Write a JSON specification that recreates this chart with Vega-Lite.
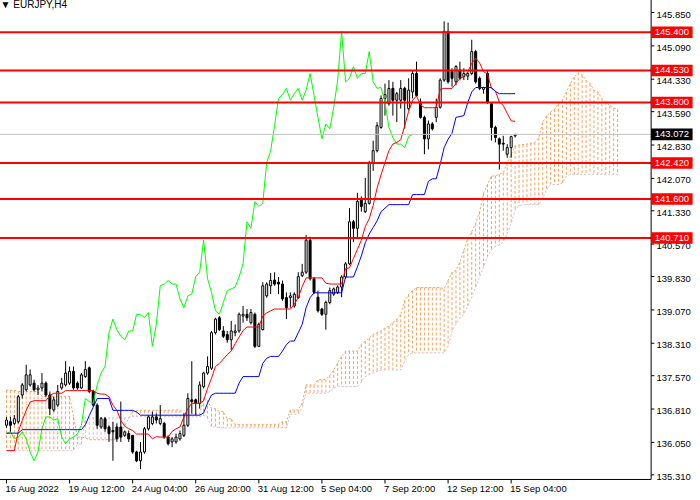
{
  "$schema": "https://vega.github.io/schema/vega-lite/v6.json",
  "width": 700,
  "height": 500,
  "padding": 0,
  "autosize": {"type": "none"},
  "background": "white",
  "title": {
    "text": "▼ EURJPY,H4",
    "anchor": "start",
    "offset": -13,
    "dx": 3,
    "fontSize": 10,
    "fontWeight": "normal",
    "font": "Liberation Sans",
    "color": "black"
  },
  "config": {
    "view": {"stroke": null},
    "axis": {"grid": false}
  },
  "datasets": {
    "candles": [
      {"i":0,"o":136.44,"h":136.63,"l":136.38,"c":136.56},
      {"i":1,"o":136.52,"h":136.63,"l":136.29,"c":136.44},
      {"i":2,"o":136.48,"h":136.67,"l":136.44,"c":136.59},
      {"i":3,"o":136.52,"h":137.13,"l":136.48,"c":137.09},
      {"i":4,"o":137.13,"h":137.40,"l":137.05,"c":137.36},
      {"i":5,"o":137.25,"h":137.82,"l":137.21,"c":137.59},
      {"i":6,"o":137.36,"h":137.71,"l":137.32,"c":137.59},
      {"i":7,"o":137.40,"h":137.48,"l":137.21,"c":137.25},
      {"i":8,"o":137.25,"h":137.36,"l":137.13,"c":137.29},
      {"i":9,"o":137.29,"h":137.63,"l":137.21,"c":137.40},
      {"i":10,"o":137.40,"h":137.44,"l":137.09,"c":137.13},
      {"i":11,"o":137.13,"h":137.21,"l":136.67,"c":136.82},
      {"i":12,"o":136.79,"h":137.09,"l":136.75,"c":137.02},
      {"i":13,"o":136.90,"h":137.36,"l":136.86,"c":137.21},
      {"i":14,"o":137.29,"h":137.52,"l":137.25,"c":137.40},
      {"i":15,"o":137.36,"h":137.90,"l":137.32,"c":137.63},
      {"i":16,"o":137.40,"h":137.78,"l":137.36,"c":137.67},
      {"i":17,"o":137.67,"h":137.78,"l":137.25,"c":137.29},
      {"i":18,"o":137.40,"h":137.44,"l":137.25,"c":137.29},
      {"i":19,"o":137.29,"h":137.63,"l":137.27,"c":137.59},
      {"i":20,"o":137.55,"h":137.90,"l":137.52,"c":137.71},
      {"i":21,"o":137.75,"h":137.78,"l":137.17,"c":137.21},
      {"i":22,"o":137.21,"h":137.25,"l":136.86,"c":136.90},
      {"i":23,"o":136.90,"h":136.94,"l":136.36,"c":136.44},
      {"i":24,"o":136.40,"h":136.63,"l":136.36,"c":136.59},
      {"i":25,"o":136.59,"h":136.63,"l":136.29,"c":136.36},
      {"i":26,"o":136.40,"h":136.44,"l":136.06,"c":136.25},
      {"i":27,"o":136.32,"h":136.52,"l":135.63,"c":136.29},
      {"i":28,"o":136.40,"h":136.48,"l":136.06,"c":136.13},
      {"i":29,"o":136.40,"h":136.98,"l":136.06,"c":136.17},
      {"i":30,"o":136.21,"h":136.32,"l":136.17,"c":136.29},
      {"i":31,"o":136.25,"h":136.32,"l":136.06,"c":136.13},
      {"i":32,"o":136.21,"h":136.21,"l":135.79,"c":135.83},
      {"i":33,"o":135.83,"h":135.86,"l":135.60,"c":135.63},
      {"i":34,"o":135.63,"h":136.06,"l":135.44,"c":135.83},
      {"i":35,"o":135.83,"h":136.40,"l":135.79,"c":136.36},
      {"i":36,"o":136.36,"h":136.67,"l":136.32,"c":136.63},
      {"i":37,"o":136.48,"h":136.75,"l":136.44,"c":136.63},
      {"i":38,"o":136.63,"h":136.71,"l":136.48,"c":136.56},
      {"i":39,"o":136.48,"h":136.90,"l":136.44,"c":136.59},
      {"i":40,"o":136.48,"h":136.52,"l":136.13,"c":136.17},
      {"i":41,"o":136.17,"h":136.21,"l":135.98,"c":136.02},
      {"i":42,"o":136.06,"h":136.17,"l":135.94,"c":136.13},
      {"i":43,"o":136.06,"h":136.25,"l":136.02,"c":136.17},
      {"i":44,"o":136.13,"h":136.32,"l":136.09,"c":136.25},
      {"i":45,"o":136.21,"h":136.71,"l":136.17,"c":136.44},
      {"i":46,"o":136.44,"h":137.17,"l":136.40,"c":137.05},
      {"i":47,"o":137.02,"h":137.90,"l":136.71,"c":136.98},
      {"i":48,"o":137.02,"h":137.05,"l":136.67,"c":136.94},
      {"i":49,"o":136.94,"h":137.44,"l":136.82,"c":137.36},
      {"i":50,"o":137.32,"h":137.66,"l":137.28,"c":137.63},
      {"i":51,"o":137.63,"h":138.01,"l":137.59,"c":137.78},
      {"i":52,"o":137.74,"h":138.59,"l":137.70,"c":138.55},
      {"i":53,"o":138.55,"h":138.89,"l":138.51,"c":138.86},
      {"i":54,"o":138.89,"h":138.93,"l":138.59,"c":138.62},
      {"i":55,"o":138.59,"h":138.70,"l":138.43,"c":138.47},
      {"i":56,"o":138.51,"h":138.59,"l":138.32,"c":138.39},
      {"i":57,"o":138.39,"h":138.82,"l":138.16,"c":138.59},
      {"i":58,"o":138.55,"h":138.74,"l":138.47,"c":138.59},
      {"i":59,"o":138.59,"h":139.01,"l":138.55,"c":138.97},
      {"i":60,"o":138.93,"h":139.16,"l":138.78,"c":138.97},
      {"i":61,"o":138.97,"h":139.09,"l":138.82,"c":138.89},
      {"i":62,"o":138.78,"h":139.09,"l":138.74,"c":139.01},
      {"i":63,"o":138.97,"h":139.01,"l":138.20,"c":138.24},
      {"i":64,"o":138.24,"h":138.78,"l":138.22,"c":138.74},
      {"i":65,"o":138.62,"h":139.70,"l":138.60,"c":139.62},
      {"i":66,"o":139.39,"h":139.70,"l":139.35,"c":139.66},
      {"i":67,"o":139.62,"h":139.91,"l":139.43,"c":139.74},
      {"i":68,"o":139.75,"h":139.93,"l":139.62,"c":139.66},
      {"i":69,"o":139.70,"h":139.82,"l":139.43,"c":139.66},
      {"i":70,"o":139.66,"h":139.74,"l":139.28,"c":139.32},
      {"i":71,"o":139.35,"h":139.47,"l":138.86,"c":139.12},
      {"i":72,"o":139.35,"h":139.47,"l":139.12,"c":139.39},
      {"i":73,"o":139.16,"h":139.47,"l":139.12,"c":139.43},
      {"i":74,"o":139.35,"h":139.93,"l":139.32,"c":139.83},
      {"i":75,"o":139.85,"h":140.12,"l":139.82,"c":139.93},
      {"i":76,"o":139.93,"h":140.78,"l":139.89,"c":140.66},
      {"i":77,"o":140.66,"h":140.74,"l":139.74,"c":139.78},
      {"i":78,"o":139.78,"h":139.82,"l":139.43,"c":139.47},
      {"i":79,"o":139.36,"h":139.51,"l":139.01,"c":139.05},
      {"i":80,"o":139.09,"h":139.12,"l":138.93,"c":138.97},
      {"i":81,"o":138.97,"h":139.28,"l":138.62,"c":139.24},
      {"i":82,"o":139.24,"h":139.58,"l":139.20,"c":139.51},
      {"i":83,"o":139.43,"h":139.58,"l":139.39,"c":139.55},
      {"i":84,"o":139.47,"h":139.63,"l":139.43,"c":139.59},
      {"i":85,"o":139.59,"h":139.86,"l":139.36,"c":139.82},
      {"i":86,"o":139.82,"h":140.16,"l":139.78,"c":140.12},
      {"i":87,"o":140.12,"h":141.39,"l":140.09,"c":141.08},
      {"i":88,"o":141.08,"h":141.12,"l":140.62,"c":140.93},
      {"i":89,"o":140.93,"h":141.74,"l":140.70,"c":141.54},
      {"i":90,"o":141.58,"h":141.66,"l":141.31,"c":141.43},
      {"i":91,"o":141.31,"h":142.08,"l":141.28,"c":141.50},
      {"i":92,"o":141.50,"h":142.47,"l":141.47,"c":142.43},
      {"i":93,"o":142.43,"h":142.93,"l":142.24,"c":142.70},
      {"i":94,"o":142.70,"h":143.35,"l":142.66,"c":143.27},
      {"i":95,"o":143.23,"h":143.96,"l":143.20,"c":143.89},
      {"i":96,"o":143.89,"h":144.23,"l":143.50,"c":143.98},
      {"i":97,"o":143.77,"h":144.31,"l":143.73,"c":144.12},
      {"i":98,"o":144.12,"h":144.27,"l":143.50,"c":143.85},
      {"i":99,"o":143.85,"h":144.04,"l":143.35,"c":144.00},
      {"i":100,"o":143.85,"h":144.31,"l":143.66,"c":144.12},
      {"i":101,"o":144.12,"h":144.16,"l":143.20,"c":143.85},
      {"i":102,"o":143.66,"h":144.35,"l":143.62,"c":144.08},
      {"i":103,"o":144.04,"h":144.54,"l":143.89,"c":144.46},
      {"i":104,"o":144.46,"h":144.73,"l":143.93,"c":143.96},
      {"i":105,"o":143.81,"h":143.89,"l":143.43,"c":143.46},
      {"i":106,"o":143.46,"h":143.50,"l":142.62,"c":142.97},
      {"i":107,"o":142.97,"h":143.39,"l":142.73,"c":143.31},
      {"i":108,"o":143.31,"h":143.35,"l":143.16,"c":143.20},
      {"i":109,"o":143.46,"h":143.89,"l":143.35,"c":143.69},
      {"i":110,"o":143.69,"h":144.35,"l":143.66,"c":144.31},
      {"i":111,"o":144.31,"h":145.65,"l":144.27,"c":145.42},
      {"i":112,"o":145.42,"h":145.62,"l":144.23,"c":144.27},
      {"i":113,"o":144.50,"h":144.58,"l":144.16,"c":144.35},
      {"i":114,"o":144.27,"h":144.65,"l":144.19,"c":144.62},
      {"i":115,"o":144.54,"h":144.73,"l":144.31,"c":144.35},
      {"i":116,"o":144.39,"h":144.58,"l":144.31,"c":144.46},
      {"i":117,"o":144.40,"h":144.50,"l":144.31,"c":144.46},
      {"i":118,"o":144.46,"h":145.23,"l":144.42,"c":144.96},
      {"i":119,"o":144.96,"h":145.00,"l":144.23,"c":144.27},
      {"i":120,"o":144.35,"h":144.39,"l":144.08,"c":144.12},
      {"i":121,"o":144.10,"h":144.16,"l":144.00,"c":144.14},
      {"i":122,"o":144.46,"h":144.54,"l":143.77,"c":143.81},
      {"i":123,"o":143.77,"h":143.81,"l":142.93,"c":143.23},
      {"i":124,"o":143.23,"h":143.27,"l":142.89,"c":143.00},
      {"i":125,"o":142.97,"h":143.00,"l":142.27,"c":142.85},
      {"i":126,"o":142.87,"h":143.04,"l":142.70,"c":142.85},
      {"i":127,"o":142.62,"h":142.85,"l":142.54,"c":142.77},
      {"i":128,"o":142.77,"h":143.04,"l":142.54,"c":143.02},
      {"i":129,"o":143.04,"h":143.08,"l":143.00,"c":143.072}
    ],
    "ichimoku": [
      {"i":0,"t":135.86,"k":136.26},{"i":1,"t":135.86,"k":136.26},{"i":2,"t":135.86,"k":136.26},
      {"i":3,"t":136.30,"k":136.26},{"i":4,"t":136.55,"k":136.34},{"i":5,"t":136.78,"k":136.34},
      {"i":6,"t":136.97,"k":136.34},{"i":7,"t":137.00,"k":136.34},{"i":8,"t":137.00,"k":136.34},
      {"i":9,"t":137.00,"k":136.34},{"i":10,"t":137.00,"k":136.34},{"i":11,"t":137.12,"k":136.34},
      {"i":12,"t":137.17,"k":136.34},{"i":13,"t":137.17,"k":136.34},{"i":14,"t":137.17,"k":136.34},
      {"i":15,"t":137.23,"k":136.34},{"i":16,"t":137.23,"k":136.34},{"i":17,"t":137.23,"k":136.34},
      {"i":18,"t":137.23,"k":136.34},{"i":19,"t":137.23,"k":136.34},{"i":20,"t":137.23,"k":136.45},
      {"i":21,"t":137.23,"k":136.66},{"i":22,"t":137.23,"k":136.85},{"i":23,"t":137.17,"k":137.05},
      {"i":24,"t":137.15,"k":137.05},{"i":25,"t":137.15,"k":137.05},{"i":26,"t":137.09,"k":137.05},
      {"i":27,"t":136.90,"k":136.78},{"i":28,"t":136.78,"k":136.78},{"i":29,"t":136.55,"k":136.78},
      {"i":30,"t":136.42,"k":136.78},{"i":31,"t":136.36,"k":136.78},{"i":32,"t":136.32,"k":136.78},
      {"i":33,"t":136.24,"k":136.74},{"i":34,"t":136.24,"k":136.67},{"i":35,"t":136.24,"k":136.67},
      {"i":36,"t":136.24,"k":136.67},{"i":37,"t":136.13,"k":136.67},{"i":38,"t":136.18,"k":136.67},
      {"i":39,"t":136.17,"k":136.67},{"i":40,"t":136.17,"k":136.67},{"i":41,"t":136.17,"k":136.67},
      {"i":42,"t":136.30,"k":136.67},{"i":43,"t":136.36,"k":136.67},{"i":44,"t":136.40,"k":136.67},
      {"i":45,"t":136.63,"k":136.67},{"i":46,"t":136.82,"k":136.67},{"i":47,"t":136.94,"k":136.67},
      {"i":48,"t":136.94,"k":136.67},{"i":49,"t":136.94,"k":136.67},{"i":50,"t":137.00,"k":136.72},
      {"i":51,"t":137.28,"k":136.95},{"i":52,"t":137.51,"k":137.13},{"i":53,"t":137.78,"k":137.17},
      {"i":54,"t":137.85,"k":137.17},{"i":55,"t":137.95,"k":137.17},{"i":56,"t":138.05,"k":137.17},
      {"i":57,"t":138.13,"k":137.17},{"i":58,"t":138.30,"k":137.17},{"i":59,"t":138.45,"k":137.40},
      {"i":60,"t":138.60,"k":137.55},{"i":61,"t":138.68,"k":137.55},{"i":62,"t":138.68,"k":137.55},
      {"i":63,"t":138.68,"k":137.55},{"i":64,"t":138.68,"k":137.55},{"i":65,"t":138.93,"k":137.85},
      {"i":66,"t":139.00,"k":137.97},{"i":67,"t":139.05,"k":138.01},{"i":68,"t":139.09,"k":138.01},
      {"i":69,"t":139.09,"k":138.01},{"i":70,"t":139.09,"k":138.13},{"i":71,"t":139.09,"k":138.28},
      {"i":72,"t":139.09,"k":138.36},{"i":73,"t":139.20,"k":138.36},{"i":74,"t":139.35,"k":138.55},
      {"i":75,"t":139.60,"k":138.74},{"i":76,"t":139.80,"k":139.12},{"i":77,"t":139.80,"k":139.35},
      {"i":78,"t":139.80,"k":139.46},{"i":79,"t":139.80,"k":139.46},{"i":80,"t":139.80,"k":139.46},
      {"i":81,"t":139.68,"k":139.46},{"i":82,"t":139.66,"k":139.46},{"i":83,"t":139.66,"k":139.46},
      {"i":84,"t":139.66,"k":139.46},{"i":85,"t":139.66,"k":139.46},{"i":86,"t":140.01,"k":139.82},
      {"i":87,"t":140.03,"k":139.82},{"i":88,"t":140.24,"k":139.82},{"i":89,"t":140.45,"k":140.05},
      {"i":90,"t":140.66,"k":140.30},{"i":91,"t":140.97,"k":140.60},{"i":92,"t":141.15,"k":140.80},
      {"i":93,"t":141.45,"k":140.95},{"i":94,"t":141.85,"k":141.10},{"i":95,"t":142.15,"k":141.31},
      {"i":96,"t":142.43,"k":141.39},{"i":97,"t":142.70,"k":141.47},{"i":98,"t":142.85,"k":141.47},
      {"i":99,"t":142.89,"k":141.47},{"i":100,"t":142.95,"k":141.47},{"i":101,"t":143.27,"k":141.47},
      {"i":102,"t":143.60,"k":141.47},{"i":103,"t":143.85,"k":141.70},{"i":104,"t":143.95,"k":141.70},
      {"i":105,"t":143.75,"k":141.70},{"i":106,"t":143.68,"k":141.70},{"i":107,"t":143.68,"k":142.00},
      {"i":108,"t":143.68,"k":142.06},{"i":109,"t":143.68,"k":142.06},{"i":110,"t":144.10,"k":142.39},
      {"i":111,"t":144.12,"k":142.77},{"i":112,"t":144.12,"k":142.96},{"i":113,"t":144.12,"k":143.10},
      {"i":114,"t":144.23,"k":143.46},{"i":115,"t":144.35,"k":143.48},{"i":116,"t":144.39,"k":143.50},
      {"i":117,"t":144.50,"k":143.80},{"i":118,"t":144.69,"k":144.04},{"i":119,"t":144.81,"k":144.14},
      {"i":120,"t":144.70,"k":144.14},{"i":121,"t":144.50,"k":144.14},{"i":122,"t":144.45,"k":144.14},
      {"i":123,"t":144.12,"k":144.14},{"i":124,"t":144.06,"k":144.05},{"i":125,"t":143.81,"k":144.00},
      {"i":126,"t":143.73,"k":144.00},{"i":127,"t":143.55,"k":144.00},{"i":128,"t":143.38,"k":144.00},
      {"i":129,"t":143.37,"k":144.00}
    ],
    "chikou": [
      {"i":0,"v":136.25},{"i":1,"v":136.29},{"i":2,"v":136.13},{"i":3,"v":136.17},{"i":4,"v":136.29},
      {"i":5,"v":136.13},{"i":6,"v":135.83},{"i":7,"v":135.63},{"i":8,"v":135.83},{"i":9,"v":136.36},
      {"i":10,"v":136.63},{"i":11,"v":136.63},{"i":12,"v":136.56},{"i":13,"v":136.59},{"i":14,"v":136.17},
      {"i":15,"v":136.02},{"i":16,"v":136.13},{"i":17,"v":136.17},{"i":18,"v":136.25},{"i":19,"v":136.44},
      {"i":20,"v":137.05},{"i":21,"v":136.98},{"i":22,"v":136.94},{"i":23,"v":137.36},{"i":24,"v":137.63},
      {"i":25,"v":137.78},{"i":26,"v":138.55},{"i":27,"v":138.86},{"i":28,"v":138.62},{"i":29,"v":138.47},
      {"i":30,"v":138.39},{"i":31,"v":138.59},{"i":32,"v":138.59},{"i":33,"v":138.97},{"i":34,"v":138.97},
      {"i":35,"v":138.89},{"i":36,"v":139.01},{"i":37,"v":138.24},{"i":38,"v":138.74},{"i":39,"v":139.62},
      {"i":40,"v":139.66},{"i":41,"v":139.74},{"i":42,"v":139.66},{"i":43,"v":139.66},{"i":44,"v":139.32},
      {"i":45,"v":139.12},{"i":46,"v":139.39},{"i":47,"v":139.43},{"i":48,"v":139.83},{"i":49,"v":139.93},
      {"i":50,"v":140.66},{"i":51,"v":139.78},{"i":52,"v":139.47},{"i":53,"v":139.05},{"i":54,"v":138.97},
      {"i":55,"v":139.24},{"i":56,"v":139.51},{"i":57,"v":139.55},{"i":58,"v":139.59},{"i":59,"v":139.82},
      {"i":60,"v":140.12},{"i":61,"v":141.08},{"i":62,"v":140.93},{"i":63,"v":141.54},{"i":64,"v":141.43},
      {"i":65,"v":141.50},{"i":66,"v":142.43},{"i":67,"v":142.70},{"i":68,"v":143.27},{"i":69,"v":143.89},
      {"i":70,"v":143.98},{"i":71,"v":144.12},{"i":72,"v":143.85},{"i":73,"v":144.00},{"i":74,"v":144.12},
      {"i":75,"v":143.85},{"i":76,"v":144.08},{"i":77,"v":144.46},{"i":78,"v":143.96},{"i":79,"v":143.46},
      {"i":80,"v":142.97},{"i":81,"v":143.31},{"i":82,"v":143.20},{"i":83,"v":143.69},{"i":84,"v":144.31},
      {"i":85,"v":145.42},{"i":86,"v":144.27},{"i":87,"v":144.35},{"i":88,"v":144.62},{"i":89,"v":144.35},
      {"i":90,"v":144.46},{"i":91,"v":144.46},{"i":92,"v":144.96},{"i":93,"v":144.27},{"i":94,"v":144.12},
      {"i":95,"v":144.14},{"i":96,"v":143.81},{"i":97,"v":143.23},{"i":98,"v":143.00},{"i":99,"v":142.85},
      {"i":100,"v":142.85},{"i":101,"v":142.77},{"i":102,"v":143.02},{"i":103,"v":143.072}
    ],
    "kumo": [
      {"i":0,"a":137.24,"b":135.86},{"i":1,"a":137.24,"b":135.86},{"i":2,"a":137.24,"b":135.86},
      {"i":3,"a":137.21,"b":135.86},{"i":4,"a":137.21,"b":135.86},{"i":5,"a":137.21,"b":135.86},
      {"i":6,"a":137.21,"b":135.86},{"i":7,"a":137.21,"b":135.86},{"i":8,"a":137.21,"b":135.86},
      {"i":9,"a":137.10,"b":135.86},{"i":10,"a":137.10,"b":135.86},{"i":11,"a":137.10,"b":135.86},
      {"i":12,"a":137.10,"b":135.86},{"i":13,"a":137.10,"b":135.86},{"i":14,"a":137.10,"b":135.86},
      {"i":15,"a":137.10,"b":135.86},{"i":16,"a":137.10,"b":135.86},{"i":17,"a":136.63,"b":135.86},
      {"i":18,"a":136.17,"b":136.01},{"i":19,"a":136.17,"b":136.01},{"i":20,"a":136.15,"b":136.61},
      {"i":21,"a":136.11,"b":136.61},{"i":22,"a":136.11,"b":136.61},{"i":23,"a":136.11,"b":136.61},
      {"i":24,"a":136.11,"b":136.61},{"i":25,"a":136.11,"b":136.61},{"i":26,"a":136.11,"b":136.61},
      {"i":27,"a":136.11,"b":136.61},{"i":28,"a":136.11,"b":136.61},{"i":29,"a":136.24,"b":136.61},
      {"i":30,"a":136.44,"b":136.61},{"i":31,"a":136.59,"b":136.61},{"i":32,"a":136.78,"b":136.64},
      {"i":33,"a":136.78,"b":136.64},{"i":34,"a":136.78,"b":136.64},{"i":35,"a":136.78,"b":136.64},
      {"i":36,"a":136.78,"b":136.64},{"i":37,"a":136.78,"b":136.64},{"i":38,"a":136.78,"b":136.64},
      {"i":39,"a":136.78,"b":136.64},{"i":40,"a":136.78,"b":136.64},{"i":41,"a":136.78,"b":136.64},
      {"i":42,"a":136.79,"b":136.63},{"i":43,"a":136.79,"b":136.63},{"i":44,"a":136.79,"b":136.63},
      {"i":45,"a":136.71,"b":136.63},{"i":46,"a":136.71,"b":136.63},{"i":47,"a":136.71,"b":136.63},
      {"i":48,"a":136.71,"b":136.63},{"i":49,"a":136.71,"b":136.63},{"i":50,"a":137.05,"b":136.67},
      {"i":51,"a":137.00,"b":136.60},{"i":52,"a":136.82,"b":136.40},{"i":53,"a":136.82,"b":136.40},
      {"i":54,"a":136.75,"b":136.38},{"i":55,"a":136.75,"b":136.38},{"i":56,"a":136.59,"b":136.38},
      {"i":57,"a":136.59,"b":136.38},{"i":58,"a":136.46,"b":136.38},{"i":59,"a":136.46,"b":136.38},
      {"i":60,"a":136.46,"b":136.38},{"i":61,"a":136.46,"b":136.38},{"i":62,"a":136.46,"b":136.38},
      {"i":63,"a":136.46,"b":136.38},{"i":64,"a":136.46,"b":136.38},{"i":65,"a":136.46,"b":136.38},
      {"i":66,"a":136.46,"b":136.38},{"i":67,"a":136.46,"b":136.38},{"i":68,"a":136.46,"b":136.38},
      {"i":69,"a":136.46,"b":136.38},{"i":70,"a":136.52,"b":136.38},{"i":71,"a":136.52,"b":136.38},
      {"i":72,"a":136.79,"b":136.69},{"i":73,"a":136.79,"b":136.69},{"i":74,"a":136.79,"b":136.69},
      {"i":75,"a":136.94,"b":136.86},{"i":76,"a":137.36,"b":137.17},{"i":77,"a":137.36,"b":137.17},
      {"i":78,"a":137.36,"b":137.17},{"i":79,"a":137.48,"b":137.17},{"i":80,"a":137.48,"b":137.17},
      {"i":81,"a":137.48,"b":137.17},{"i":82,"a":137.58,"b":137.21},{"i":83,"a":137.70,"b":137.28},
      {"i":84,"a":137.86,"b":137.32},{"i":85,"a":138.01,"b":137.32},{"i":86,"a":138.13,"b":137.32},
      {"i":87,"a":138.13,"b":137.32},{"i":88,"a":138.13,"b":137.32},{"i":89,"a":138.13,"b":137.32},
      {"i":90,"a":138.28,"b":137.43},{"i":91,"a":138.36,"b":137.55},{"i":92,"a":138.43,"b":137.59},
      {"i":93,"a":138.51,"b":137.63},{"i":94,"a":138.55,"b":137.67},{"i":95,"a":138.59,"b":137.70},
      {"i":96,"a":138.66,"b":137.70},{"i":97,"a":138.70,"b":137.70},{"i":98,"a":138.78,"b":137.70},
      {"i":99,"a":138.86,"b":137.70},{"i":100,"a":138.97,"b":137.70},{"i":101,"a":139.28,"b":137.90},
      {"i":102,"a":139.43,"b":138.05},{"i":103,"a":139.51,"b":138.09},{"i":104,"a":139.58,"b":138.09},
      {"i":105,"a":139.58,"b":138.09},{"i":106,"a":139.58,"b":138.09},{"i":107,"a":139.58,"b":138.09},
      {"i":108,"a":139.58,"b":138.09},{"i":109,"a":139.58,"b":138.09},{"i":110,"a":139.58,"b":138.09},
      {"i":111,"a":139.55,"b":138.09},{"i":112,"a":139.74,"b":138.24},{"i":113,"a":139.93,"b":138.59},
      {"i":114,"a":139.97,"b":138.74},{"i":115,"a":140.16,"b":138.89},{"i":116,"a":140.43,"b":138.97},
      {"i":117,"a":140.70,"b":139.16},{"i":118,"a":140.85,"b":139.36},{"i":119,"a":141.04,"b":139.59},
      {"i":120,"a":141.31,"b":139.82},{"i":121,"a":141.73,"b":140.05},{"i":122,"a":141.93,"b":140.28},
      {"i":123,"a":142.12,"b":140.43},{"i":124,"a":142.13,"b":140.51},{"i":125,"a":142.16,"b":140.55},
      {"i":126,"a":142.20,"b":140.62},{"i":127,"a":142.43,"b":140.81},{"i":128,"a":142.62,"b":141.04},
      {"i":129,"a":142.81,"b":141.35},{"i":130,"a":142.83,"b":141.44},{"i":131,"a":142.84,"b":141.47},
      {"i":132,"a":142.85,"b":141.47},{"i":133,"a":142.87,"b":141.47},{"i":134,"a":142.89,"b":141.47},
      {"i":135,"a":143.00,"b":141.47},{"i":136,"a":143.35,"b":141.62},{"i":137,"a":143.50,"b":141.81},
      {"i":138,"a":143.58,"b":141.93},{"i":139,"a":143.65,"b":141.93},{"i":140,"a":143.77,"b":141.93},
      {"i":141,"a":143.85,"b":141.97},{"i":142,"a":144.04,"b":142.12},{"i":143,"a":144.23,"b":142.16},
      {"i":144,"a":144.38,"b":142.16},{"i":145,"a":144.48,"b":142.16},{"i":146,"a":144.42,"b":142.16},
      {"i":147,"a":144.31,"b":142.16},{"i":148,"a":144.23,"b":142.16},{"i":149,"a":144.08,"b":142.16},
      {"i":150,"a":144.04,"b":142.16},{"i":151,"a":143.89,"b":142.16},{"i":152,"a":143.81,"b":142.16},
      {"i":153,"a":143.73,"b":142.16},{"i":154,"a":143.67,"b":142.16},{"i":155,"a":143.65,"b":142.16}
    ],
    "levels": [
      {"v":145.4,"kind":"level"},
      {"v":144.53,"kind":"level"},
      {"v":143.8,"kind":"level"},
      {"v":142.42,"kind":"level"},
      {"v":141.6,"kind":"level"},
      {"v":140.71,"kind":"level"},
      {"v":143.072,"kind":"bid"}
    ],
    "priceTicks": [
      {"v":145.85},{"v":145.09},{"v":144.33},{"v":143.59},{"v":142.83},
      {"v":142.07},{"v":141.33},{"v":140.57},{"v":139.83},{"v":139.07},
      {"v":138.31},{"v":137.57},{"v":136.81},{"v":136.05},{"v":135.31}
    ],
    "timeTicks": [
      {"i":0,"label":"16 Aug 2022"},
      {"i":16,"label":"19 Aug 12:00"},
      {"i":32,"label":"24 Aug 04:00"},
      {"i":48,"label":"26 Aug 20:00"},
      {"i":64,"label":"31 Aug 12:00"},
      {"i":80,"label":"5 Sep 04:00"},
      {"i":96,"label":"7 Sep 20:00"},
      {"i":112,"label":"12 Sep 12:00"},
      {"i":128,"label":"15 Sep 04:00"}
    ]
  },
  "layer": [
    {
      "data": {"name": "kumo"},
      "mark": {"type": "rule", "strokeWidth": 1, "strokeDash": [3, 2]},
      "encoding": {
        "x": {"field": "i", "type": "quantitative", "scale": {"domain": [-0.375, 174.625], "nice": false, "zero": false}, "axis": null},
        "y": {"field": "a", "type": "quantitative", "scale": {"domain": [134.736, 146.136], "nice": false, "zero": false}, "axis": null},
        "y2": {"field": "b"},
        "color": {
          "condition": {"test": "datum.a >= datum.b", "value": "#F4A460"},
          "value": "#D8BFD8"
        }
      }
    },
    {
      "data": {"name": "kumo"},
      "mark": {"type": "line", "color": "#F4A460", "strokeWidth": 1, "strokeDash": [2, 2]},
      "encoding": {
        "x": {"field": "i", "type": "quantitative", "scale": {"domain": [-0.375, 174.625], "nice": false, "zero": false}, "axis": null},
        "y": {"field": "a", "type": "quantitative", "scale": {"domain": [134.736, 146.136], "nice": false, "zero": false}, "axis": null}
      }
    },
    {
      "data": {"name": "kumo"},
      "mark": {"type": "line", "color": "#D8BFD8", "strokeWidth": 1, "strokeDash": [2, 2]},
      "encoding": {
        "x": {"field": "i", "type": "quantitative", "scale": {"domain": [-0.375, 174.625], "nice": false, "zero": false}, "axis": null},
        "y": {"field": "b", "type": "quantitative", "scale": {"domain": [134.736, 146.136], "nice": false, "zero": false}, "axis": null}
      }
    },
    {
      "data": {"name": "candles"},
      "mark": {"type": "rule", "color": "black", "strokeWidth": 1},
      "encoding": {
        "x": {"field": "i", "type": "quantitative", "scale": {"domain": [-0.375, 174.625], "nice": false, "zero": false}, "axis": null},
        "y": {"field": "l", "type": "quantitative", "scale": {"domain": [134.736, 146.136], "nice": false, "zero": false}, "axis": null},
        "y2": {"field": "h"}
      }
    },
    {
      "data": {"name": "candles"},
      "mark": {"type": "bar", "width": 2, "stroke": "black", "strokeWidth": 1},
      "encoding": {
        "x": {"field": "i", "type": "quantitative", "scale": {"domain": [-0.375, 174.625], "nice": false, "zero": false}, "axis": null},
        "y": {"field": "o", "type": "quantitative", "scale": {"domain": [134.736, 146.136], "nice": false, "zero": false}, "axis": null},
        "y2": {"field": "c"},
        "fill": {
          "condition": {"test": "datum.c < datum.o", "value": "black"},
          "value": "white"
        }
      }
    },
    {
      "data": {"name": "chikou"},
      "mark": {"type": "line", "color": "#00FF00", "strokeWidth": 1},
      "encoding": {
        "x": {"field": "i", "type": "quantitative", "scale": {"domain": [-0.375, 174.625], "nice": false, "zero": false}, "axis": null},
        "y": {"field": "v", "type": "quantitative", "scale": {"domain": [134.736, 146.136], "nice": false, "zero": false}, "axis": null}
      }
    },
    {
      "data": {"name": "ichimoku"},
      "mark": {"type": "line", "color": "#FF0000", "strokeWidth": 1},
      "encoding": {
        "x": {"field": "i", "type": "quantitative", "scale": {"domain": [-0.375, 174.625], "nice": false, "zero": false}, "axis": null},
        "y": {"field": "t", "type": "quantitative", "scale": {"domain": [134.736, 146.136], "nice": false, "zero": false}, "axis": null}
      }
    },
    {
      "data": {"name": "ichimoku"},
      "mark": {"type": "line", "color": "#0000FF", "strokeWidth": 1},
      "encoding": {
        "x": {"field": "i", "type": "quantitative", "scale": {"domain": [-0.375, 174.625], "nice": false, "zero": false}, "axis": null},
        "y": {"field": "k", "type": "quantitative", "scale": {"domain": [134.736, 146.136], "nice": false, "zero": false}, "axis": null}
      }
    },
    {
      "data": {"name": "levels"},
      "transform": [{"filter": "datum.kind == 'bid'"}],
      "mark": {"type": "rule", "color": "#C0C0C0", "strokeWidth": 1},
      "encoding": {
        "x": {"datum": -2, "type": "quantitative", "scale": {"domain": [-0.375, 174.625], "nice": false, "zero": false}, "axis": null},
        "x2": {"datum": 163.5},
        "y": {"field": "v", "type": "quantitative", "scale": {"domain": [134.736, 146.136], "nice": false, "zero": false}, "axis": null}
      }
    },
    {
      "data": {"name": "levels"},
      "transform": [{"filter": "datum.kind == 'level'"}],
      "mark": {"type": "rule", "color": "#FF0000", "strokeWidth": 2},
      "encoding": {
        "x": {"datum": -2, "type": "quantitative", "scale": {"domain": [-0.375, 174.625], "nice": false, "zero": false}, "axis": null},
        "x2": {"datum": 163.5},
        "y": {"field": "v", "type": "quantitative", "scale": {"domain": [134.736, 146.136], "nice": false, "zero": false}, "axis": null}
      }
    },
    {
      "data": {"name": "levels"},
      "transform": [{"filter": "datum.kind == 'bid'"}],
      "mark": {"type": "rule", "color": "black", "strokeWidth": 1},
      "encoding": {
        "x": {"datum": 163.5, "type": "quantitative", "scale": {"domain": [-0.375, 174.625], "nice": false, "zero": false}, "axis": null},
        "y": {"datum": 146.2, "type": "quantitative", "scale": {"domain": [134.736, 146.136], "nice": false, "zero": false}, "axis": null},
        "y2": {"datum": 135.204}
      }
    },
    {
      "data": {"name": "levels"},
      "transform": [{"filter": "datum.kind == 'bid'"}],
      "mark": {"type": "rule", "color": "black", "strokeWidth": 1},
      "encoding": {
        "x": {"datum": -2, "type": "quantitative", "scale": {"domain": [-0.375, 174.625], "nice": false, "zero": false}, "axis": null},
        "x2": {"datum": 163.5},
        "y": {"datum": 135.204, "type": "quantitative", "scale": {"domain": [134.736, 146.136], "nice": false, "zero": false}, "axis": null}
      }
    },
    {
      "data": {"name": "priceTicks"},
      "mark": {"type": "rule", "color": "black", "strokeWidth": 1},
      "encoding": {
        "x": {"datum": 163.5, "type": "quantitative", "scale": {"domain": [-0.375, 174.625], "nice": false, "zero": false}, "axis": null},
        "x2": {"datum": 164.3},
        "y": {"field": "v", "type": "quantitative", "scale": {"domain": [134.736, 146.136], "nice": false, "zero": false}, "axis": null}
      }
    },
    {
      "data": {"name": "priceTicks"},
      "mark": {"type": "text", "color": "black", "font": "Liberation Sans", "fontSize": 9.5, "align": "left", "baseline": "middle", "dy": 2},
      "encoding": {
        "x": {"datum": 164.85, "type": "quantitative", "scale": {"domain": [-0.375, 174.625], "nice": false, "zero": false}, "axis": null},
        "y": {"field": "v", "type": "quantitative", "scale": {"domain": [134.736, 146.136], "nice": false, "zero": false}, "axis": null},
        "text": {"field": "v", "type": "quantitative", "format": ".3f"}
      }
    },
    {
      "data": {"name": "timeTicks"},
      "mark": {"type": "rule", "color": "black", "strokeWidth": 1},
      "encoding": {
        "x": {"field": "i", "type": "quantitative", "scale": {"domain": [-0.375, 174.625], "nice": false, "zero": false}, "axis": null},
        "y": {"datum": 135.204, "type": "quantitative", "scale": {"domain": [134.736, 146.136], "nice": false, "zero": false}, "axis": null},
        "y2": {"datum": 135.113}
      }
    },
    {
      "data": {"name": "timeTicks"},
      "mark": {"type": "text", "color": "black", "font": "Liberation Sans", "fontSize": 9.5, "align": "left", "baseline": "middle", "dx": -1},
      "encoding": {
        "x": {"field": "i", "type": "quantitative", "scale": {"domain": [-0.375, 174.625], "nice": false, "zero": false}, "axis": null},
        "y": {"datum": 134.98, "type": "quantitative", "scale": {"domain": [134.736, 146.136], "nice": false, "zero": false}, "axis": null},
        "text": {"field": "label", "type": "nominal"}
      }
    },
    {
      "data": {"name": "levels"},
      "mark": {"type": "point", "shape": "M-1,-0.28L1,-0.28L1,0.28L-1,0.28Z", "size": 1722, "filled": true, "opacity": 1, "strokeWidth": 0},
      "encoding": {
        "x": {"datum": 168.75, "type": "quantitative", "scale": {"domain": [-0.375, 174.625], "nice": false, "zero": false}, "axis": null},
        "y": {"field": "v", "type": "quantitative", "scale": {"domain": [134.736, 146.136], "nice": false, "zero": false}, "axis": null},
        "color": {
          "condition": {"test": "datum.kind == 'bid'", "value": "black"},
          "value": "#FF0000"
        }
      }
    },
    {
      "data": {"name": "levels"},
      "mark": {"type": "text", "color": "white", "font": "Liberation Sans", "fontSize": 9.5, "align": "center", "baseline": "middle"},
      "encoding": {
        "x": {"datum": 168.75, "type": "quantitative", "scale": {"domain": [-0.375, 174.625], "nice": false, "zero": false}, "axis": null},
        "y": {"field": "v", "type": "quantitative", "scale": {"domain": [134.736, 146.136], "nice": false, "zero": false}, "axis": null},
        "text": {"field": "v", "type": "quantitative", "format": ".3f"}
      }
    }
  ]
}
